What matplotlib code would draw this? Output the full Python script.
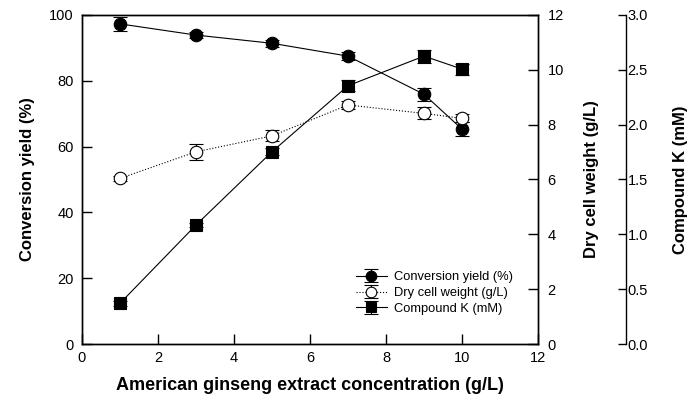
import matplotlib
matplotlib.use("Agg")
import matplotlib.pyplot as plt
from matplotlib.ticker import FormatStrFormatter

plt.rcParams['font.family'] = ['Liberation Sans', 'DejaVu Sans']

conc = [1, 3, 5, 7, 9, 10]
conv_yield = [97.3, 93.9, 91.4, 87.5, 75.9, 65.3]
conv_err = [2.2, 1.0, 1.0, 1.3, 2.0, 2.2]
dcw = [6.04, 7.01, 7.59, 8.72, 8.41, 8.23]
dcw_err = [0.1, 0.3, 0.2, 0.15, 0.22, 0.15]
ck = [0.371, 1.085, 1.753, 2.355, 2.625, 2.507]
ck_err = [0.02, 0.02, 0.03, 0.05, 0.06, 0.05]

xticks = [0, 2, 4, 6, 8, 10, 12]
y1ticks = [0, 20, 40, 60, 80, 100]
y2ticks = [0, 2, 4, 6, 8, 10, 12]
y3ticks = [0.0, 0.5, 1.0, 1.5, 2.0, 2.5, 3.0]

fig = plt.figure(figsize=(6.94, 4.04), dpi=100)
ax = fig.add_axes([82/694, 1-344/404, 456/694, 329/404])
ax2 = ax.twinx()
ax3 = ax.twinx()

lw = 0.8
fs = 10.5
common = dict(capsize=5, elinewidth=0.8, capthick=0.8, color='black', markeredgecolor='black', markeredgewidth=0.8)

h1 = ax.errorbar(conc, conv_yield, yerr=conv_err, fmt='o-', lw=lw, ms=9, markerfacecolor='black', **common)
h2 = ax2.errorbar(conc, dcw, yerr=dcw_err, fmt='o:', lw=lw, ms=9, markerfacecolor='white', **common)
h3 = ax3.errorbar(conc, ck, yerr=ck_err, fmt='s-', lw=lw, ms=8.5, markerfacecolor='black', **common)

ax.set_xlim(0, 12)
ax.set_ylim(0, 100)
ax2.set_ylim(0, 12)
ax3.set_ylim(0, 3)
ax.set_xticks(xticks)
ax.set_yticks(y1ticks)
ax2.set_yticks(y2ticks)
ax3.set_yticks(y3ticks)
ax3.yaxis.set_major_formatter(FormatStrFormatter('%.1f'))

ax.tick_params(axis='both', direction='in', length=7, width=1, labelsize=fs, top=False)
ax.tick_params(axis='x', pad=5)
ax.tick_params(axis='y', pad=6)
ax2.tick_params(axis='y', direction='in', length=7, width=1, labelsize=fs, pad=7)
ax3.tick_params(axis='y', direction='in', length=6, width=1, labelsize=fs, pad=1)

for a in (ax, ax2):
    for s in a.spines.values():
        s.set_linewidth(1.0)

ax3.spines['right'].set_position(('axes', 1.193))
for k in ('left', 'top', 'bottom'):
    ax3.spines[k].set_visible(False)
ax3.spines['right'].set_linewidth(1.0)

ax.set_xlabel('American ginseng extract concentration (g/L)', fontsize=13, fontweight='bold', labelpad=9)
ax.set_ylabel('Conversion yield (%)', fontsize=12, fontweight='bold', labelpad=10)
ax2.set_ylabel('Dry cell weight (g/L)', fontsize=12, fontweight='bold', labelpad=14)
ax3.set_ylabel('Compound K (mM)', fontsize=12, fontweight='bold', labelpad=18)

leg = ax.legend([h1, h2, h3], ['Conversion yield (%)', 'Dry cell weight (g/L)', 'Compound K (mM)'],
                loc='center left', bbox_to_anchor=(0.586, 0.155), frameon=False, fontsize=9.3,
                handlelength=2.4, handletextpad=0.55, labelspacing=0.3, borderpad=0, markerscale=0.85)

fig.savefig('out.png', dpi=100)
